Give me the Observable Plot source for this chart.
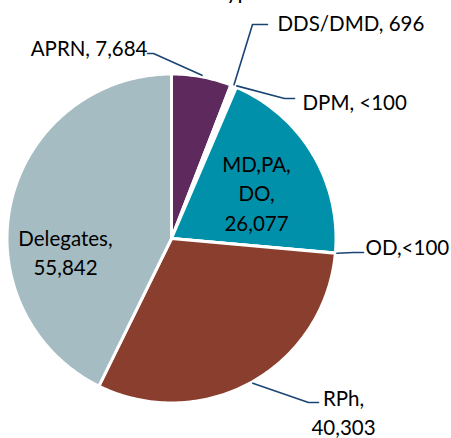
<!DOCTYPE html>
<html>
<head>
<meta charset="utf-8">
<script src="https://cdn.jsdelivr.net/npm/d3@7"></script>
<script src="https://cdn.jsdelivr.net/npm/@observablehq/plot@0.6"></script>
<style>
  html, body { margin: 0; padding: 0; background: #fff; }
</style>
</head>
<body>
<div id="chart"></div>
<script>
// ---- data ----
const names  = ["APRN", "DDS/DMD", "DPM", "MD,PA,DO", "OD", "RPh", "Delegates"];
const counts = [7684, 696, 50, 26077, 50, 40303, 55842];
const labels = ["APRN, 7,684", "DDS/DMD, 696", "DPM, <100", "MD,PA,\nDO,\n26,077", "OD,<100", "RPh,\n40,303", "Delegates,\n55,842"];
const titleText = "Prescriber Type";

// ---- styles / layout ----
const colors = ["#5E2A5E", "#FFFFFF", "#FFFFFF", "#0090AA", "#FFFFFF", "#8A3F2E", "#A6BCC3"];
const W = 451, H = 438;
const cx = 171, cy = 238, R = 164.5;
const FS = 20.5;
// label layout: text position (x, baseline of middle line), anchor, optional leader elbow + end
const layout = {
  "APRN":      {x: 147, b: 53,  anchor: "end",    elbow: [153, 53],  end: [147, 53]},
  "DDS/DMD":   {x: 277, b: 28,  anchor: "start",  elbow: [252, 24],  end: [267, 24]},
  "DPM":       {x: 302, b: 107, anchor: "start",  elbow: [284, 98],  end: [294, 98]},
  "MD,PA,DO":  {x: 256, b: 198, anchor: "middle"},
  "OD":        {x: 365, b: 252, anchor: "start",  elbow: [353, 252], end: [363, 252]},
  "RPh":       {x: 343, b: 417.5, anchor: "middle", elbow: [308, 402], end: [318, 402]},
  "Delegates": {x: 65,  b: 257.5, anchor: "middle"}
};

const pie = d3.pie().sort(null).value(d => d)(counts);
const pt = (a, r) => [cx + r * Math.sin(a), cy - r * Math.cos(a)];

// wedge polygons
const wedges = pie.map((p, i) => {
  const pts = [[cx, cy]];
  const n = Math.max(2, Math.ceil((p.endAngle - p.startAngle) / (Math.PI / 180)));
  for (let k = 0; k <= n; k++) {
    const a = p.startAngle + (p.endAngle - p.startAngle) * k / n;
    pts.push(pt(a, R));
  }
  return pts.map(([x, y]) => ({x, y, name: names[i]}));
});

// leader lines
const leaders = [];
pie.forEach((p, i) => {
  const L = layout[names[i]];
  if (!L.elbow) return;
  const mid = (p.startAngle + p.endAngle) / 2;
  const [ex, ey] = pt(mid, R + 1.5);
  leaders.push([{x: ex, y: ey}, {x: L.elbow[0], y: L.elbow[1]}, {x: L.end[0], y: L.end[1]}]
    .map(d => ({...d, name: names[i]})));
});

// text data
const texts = names.map((n, i) => {
  const L = layout[n];
  return {name: n, label: labels[i], x: L.x, y: L.b - 0.32 * FS, anchor: L.anchor};
});

const marks = [];
wedges.forEach((w, i) => {
  marks.push(Plot.line(w, {x: "x", y: "y", fill: colors[i], stroke: "#FFFFFF", strokeWidth: 3, curve: "linear-closed"}));
});
leaders.forEach(l => {
  marks.push(Plot.line(l, {x: "x", y: "y", stroke: "#1A4573", strokeWidth: 1.6}));
});
["start", "middle", "end"].forEach(anchor => {
  marks.push(Plot.text(texts.filter(t => t.anchor === anchor), {
    x: "x", y: "y", text: "label", textAnchor: anchor, lineAnchor: "middle",
    lineHeight: 1.43, fontSize: FS, fill: "#000000", fontFamily: "Lato"
  }));
});
marks.push(Plot.text([titleText], {x: () => 261, y: () => -9, text: d => d, textAnchor: "end", fontSize: 22, fill: "#000", fontFamily: "Lato"}));

const chart = Plot.plot({
  width: W, height: H,
  margin: 0,
  x: {type: "identity", axis: null},
  y: {type: "identity", axis: null},
  style: {background: "#fff", fontFamily: "Lato"},
  marks
});
document.getElementById("chart").appendChild(chart);
</script>
</body>
</html>
